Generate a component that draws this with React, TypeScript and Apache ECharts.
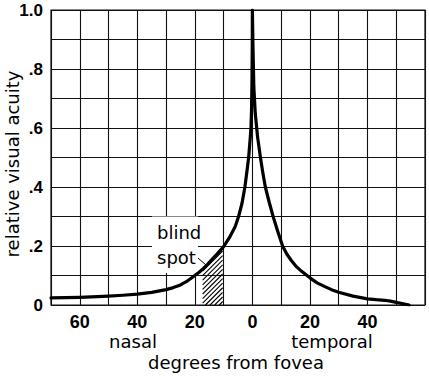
import React, { useEffect, useRef } from "react";
import * as echarts from "echarts";

// Nasal side (negative degrees) and temporal side (positive degrees)
const nasalX = [-70, -60, -50, -45, -40, -35, -30, -27.5, -25, -22.5, -20, -18.5, -17, -15.5, -14, -12, -10, -8, -6, -4.8, -3.6, -2.6, -1.8, -1.3, -0.8, -0.5, -0.3, -0.15, -0.05, 0];
const nasalY = [0.024, 0.026, 0.03, 0.033, 0.037, 0.043, 0.052, 0.059, 0.068, 0.082, 0.1, 0.111, 0.124, 0.139, 0.155, 0.176, 0.198, 0.228, 0.265, 0.3, 0.345, 0.4, 0.46, 0.5, 0.56, 0.6, 0.66, 0.75, 0.87, 1.0];
const temporalX = [0.2, 0.5, 1.0, 1.8, 2.8, 3.6, 4.5, 5.8, 7.2, 8.8, 10.5, 12, 13.6, 15.3, 17, 20, 22.5, 25, 27.5, 30, 35, 40, 43, 46, 48, 50, 52, 54.5];
const temporalY = [0.88, 0.74, 0.65, 0.57, 0.5, 0.45, 0.4, 0.35, 0.3, 0.25, 0.2, 0.172, 0.15, 0.13, 0.115, 0.092, 0.075, 0.063, 0.052, 0.043, 0.03, 0.021, 0.018, 0.016, 0.013, 0.009, 0.005, 0];

// Blind spot range (degrees)
const blindSpot = [-17.3, -10.3];

// Tick labels
const xLabelValues = [-60, -40, -20, 0, 20, 40];
const xLabelTexts = ["60", "40", "20", "0", "20", "40"];
const yLabelValues = [0, 0.2, 0.4, 0.6, 0.8, 1.0];
const yLabelTexts = ["0", ".2", ".4", ".6", ".8", "1.0"];

const curveX = [...nasalX, ...temporalX];
const curveY = [...nasalY, ...temporalY];

const TXT = "DejaVu Sans";
const NUM = "Liberation Sans";

export default function App() {
  const ref = useRef<HTMLDivElement>(null);
  useEffect(() => {
    if (!ref.current) return;
    const chart = echarts.init(ref.current, null, { renderer: "svg" });
    const curveData = curveX.map((x, i) => [x, curveY[i]]);

    const txt = (text: string, x: number, y: number, align: string, extra: any = {}) => ({
      type: "text",
      x,
      y,
      z: 10,
      ...extra,
      style: {
        text,
        font: `18px "${TXT}"`,
        fill: "#000",
        textAlign: align,
        textVerticalAlign: "middle",
        lineHeight: 14,
      },
    });

    const option: any = {
      animation: false,
      backgroundColor: "#fff",
      grid: {
        left: 51,
        top: 10,
        right: 4,
        bottom: 71,
        show: true,
        borderColor: "#111",
        borderWidth: 1.2,
      },
      xAxis: {
        type: "value",
        min: -70,
        max: 60,
        interval: 10,
        axisLine: { show: false },
        axisTick: { show: false },
        splitLine: { show: true, lineStyle: { color: "#111", width: 1.1 } },
        axisLabel: {
          margin: 10,
          color: "#000",
          fontFamily: NUM,
          fontWeight: "bold",
          fontSize: 18,
          lineHeight: 13,
          formatter: (v: number) => {
            const i = xLabelValues.findIndex((t) => Math.abs(t - v) < 1e-6);
            return i >= 0 ? xLabelTexts[i] : "";
          },
        },
      },
      yAxis: {
        type: "value",
        min: 0,
        max: 1,
        interval: 0.1,
        axisLine: { show: false },
        axisTick: { show: false },
        splitLine: { show: true, lineStyle: { color: "#111", width: 1.1 } },
        axisLabel: {
          margin: 8,
          color: "#000",
          fontFamily: NUM,
          fontWeight: "bold",
          fontSize: 17,
          formatter: (v: number) => {
            const i = yLabelValues.findIndex((t) => Math.abs(t - v) < 1e-6);
            return i >= 0 ? yLabelTexts[i] : "";
          },
        },
      },
      series: [
        {
          type: "custom",
          coordinateSystem: "cartesian2d",
          z: 2,
          silent: true,
          data: [[blindSpot[0], 0]],
          renderItem: (params: any, api: any) => {
            const pts = curveData.map((d) => api.coord(d));
            const cy = (px: number) => {
              for (let i = 0; i < pts.length - 1; i++) {
                const a = pts[i], b = pts[i + 1];
                if (px >= a[0] && px <= b[0]) {
                  const t = b[0] === a[0] ? 0 : (px - a[0]) / (b[0] - a[0]);
                  return a[1] + t * (b[1] - a[1]);
                }
              }
              return pts[pts.length - 1][1];
            };
            const x0 = api.coord([blindSpot[0], 0])[0];
            const p1 = api.coord([blindSpot[1], 0]);
            const x1 = p1[0];
            const yb = p1[1];
            const children: any[] = [];
            const step = 4.6;
            for (let c = x0 + yb - 80; c <= x1 + yb; c += step) {
              let sx = c - yb;
              let sy = yb;
              if (sx < x0) {
                sx = x0;
                sy = c - x0;
              }
              if (sx >= x1 || sy < cy(sx)) continue;
              let ex = sx;
              while (ex + 0.25 <= x1 && c - (ex + 0.25) >= cy(ex + 0.25)) ex += 0.25;
              const ey = c - ex;
              if (ex - sx < 0.5) continue;
              children.push({
                type: "line",
                shape: { x1: sx, y1: sy, x2: ex, y2: ey },
                style: { stroke: "#000", lineWidth: 1.1 },
              });
            }
            return { type: "group", children };
          },
        },
        {
          type: "line",
          name: "relative visual acuity",
          data: curveData,
          z: 5,
          showSymbol: false,
          smooth: false,
          lineStyle: { color: "#000", width: 3.2, join: "round", cap: "round" },
          silent: true,
        },
      ],
      graphic: [
        {
          type: "rect",
          z: 3,
          shape: { x: 152, y: 216.5, width: 46, height: 56.5 },
          style: { fill: "#fff" },
        },
        txt("relative visual acuity", 12, 164, "center", { rotation: Math.PI / 2 }),
        txt("degrees from fovea", 236, 362, "center"),
        txt("nasal", 133, 341, "center"),
        txt("temporal", 332, 341, "center"),
        txt("blind", 157, 232, "left"),
        txt("spot", 157, 257, "left"),
        {
          type: "line",
          z: 10,
          shape: { x1: 198, y1: 258, x2: 206, y2: 265 },
          style: { stroke: "#000", lineWidth: 1 },
        },
      ],
    };
    chart.setOption(option);
    return () => chart.dispose();
  }, []);
  return (
    <div
      ref={ref}
      style={{ position: "fixed", left: 0, top: 0, width: 429, height: 376, background: "#fff" }}
    />
  );
}
